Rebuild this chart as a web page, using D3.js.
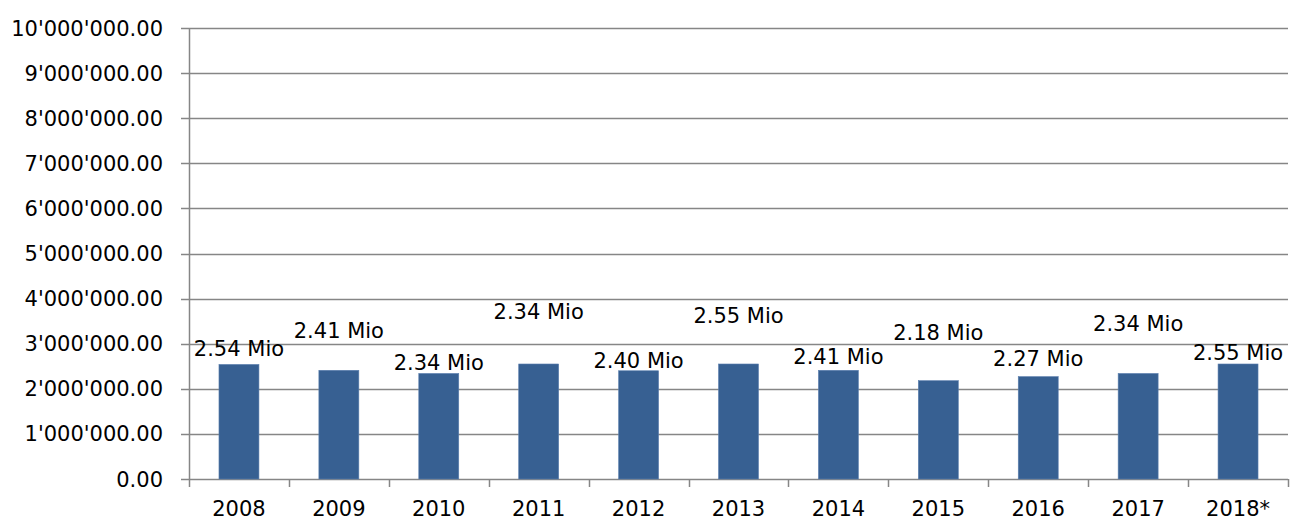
<!DOCTYPE html>
<html>
<head>
<meta charset="utf-8">
<script src="https://cdn.jsdelivr.net/npm/d3@7"></script>
<style>
  body { margin: 0; background: #fff; }
  text { font-family: "DejaVu Sans", sans-serif; fill: #000; }
</style>
</head>
<body>
<script>
const years = ["2008", "2009", "2010", "2011", "2012", "2013", "2014", "2015", "2016", "2017", "2018*"];
const values = [2540000, 2410000, 2340000, 2550000, 2400000, 2550000, 2410000, 2180000, 2270000, 2340000, 2550000];
const labels = ["2.54 Mio", "2.41 Mio", "2.34 Mio", "2.34 Mio", "2.40 Mio", "2.55 Mio", "2.41 Mio", "2.18 Mio", "2.27 Mio", "2.34 Mio", "2.55 Mio"];
// where each data label sits (value units), as placed in the original
const labelAt = [2730000, 3130000, 2420000, 3550000, 2460000, 3460000, 2550000, 3080000, 2510000, 3280000, 2640000];
const yTicks = [0, 1000000, 2000000, 3000000, 4000000, 5000000, 6000000, 7000000, 8000000, 9000000, 10000000];

const width = 1295;
const height = 529;
const plotLeft = 189, plotRight = 1288, plotTop = 28, plotBottom = 479;

const svg = d3.select("body").append("svg")
  .attr("width", width)
  .attr("height", height);

const x = d3.scaleBand()
  .domain(years)
  .range([plotLeft, plotRight])
  .paddingInner(0.6)
  .paddingOuter(0.3);

const y = d3.scaleLinear()
  .domain([0, 10000000])
  .range([plotBottom, plotTop]);

const fmt = d3.formatLocale({ decimal: ".", thousands: "'", grouping: [3], currency: ["", ""] }).format(",.2f");

const grid = "#868686";

// gridlines + y tick marks
svg.append("g")
  .selectAll("line")
  .data(yTicks)
  .enter()
  .append("line")
  .attr("x1", plotLeft - 8)
  .attr("x2", plotRight)
  .attr("y1", d => Math.round(y(d)) + 0.5)
  .attr("y2", d => Math.round(y(d)) + 0.5)
  .attr("stroke", grid)
  .attr("stroke-width", 1.5);

// y axis line
svg.append("line")
  .attr("x1", plotLeft + 0.5).attr("x2", plotLeft + 0.5)
  .attr("y1", plotTop).attr("y2", plotBottom)
  .attr("stroke", grid)
  .attr("stroke-width", 1.5);

// x tick marks at category boundaries
const step = x.step();
const bounds = years.map((d, i) => plotLeft + i * step).concat([plotRight]);
svg.append("g")
  .selectAll("line")
  .data(bounds)
  .enter()
  .append("line")
  .attr("x1", d => Math.round(d) + 0.5)
  .attr("x2", d => Math.round(d) + 0.5)
  .attr("y1", plotBottom)
  .attr("y2", plotBottom + 8)
  .attr("stroke", grid)
  .attr("stroke-width", 1.5);

// y labels
svg.append("g")
  .selectAll("text")
  .data(yTicks)
  .enter()
  .append("text")
  .attr("x", 163)
  .attr("y", d => y(d))
  .attr("dy", "0.36em")
  .attr("text-anchor", "end")
  .style("font-size", "21px")
  .text(d => fmt(d));

// bars
svg.append("g")
  .selectAll("rect")
  .data(values)
  .enter()
  .append("rect")
  .attr("x", (d, i) => x(years[i]))
  .attr("y", d => y(d))
  .attr("width", x.bandwidth())
  .attr("height", d => plotBottom - y(d))
  .attr("fill", "#376092")
  .attr("stroke", "#5b7fae")
  .attr("stroke-width", 0.6);

// x labels
svg.append("g")
  .selectAll("text")
  .data(years)
  .enter()
  .append("text")
  .attr("x", d => x(d) + x.bandwidth() / 2)
  .attr("y", 516)
  .attr("text-anchor", "middle")
  .style("font-size", "21px")
  .text(d => d);

// data labels
svg.append("g")
  .selectAll("text")
  .data(labels)
  .enter()
  .append("text")
  .attr("x", (d, i) => x(years[i]) + x.bandwidth() / 2)
  .attr("y", (d, i) => y(labelAt[i]))
  .attr("text-anchor", "middle")
  .style("font-size", "21px")
  .text(d => d);
</script>
</body>
</html>
